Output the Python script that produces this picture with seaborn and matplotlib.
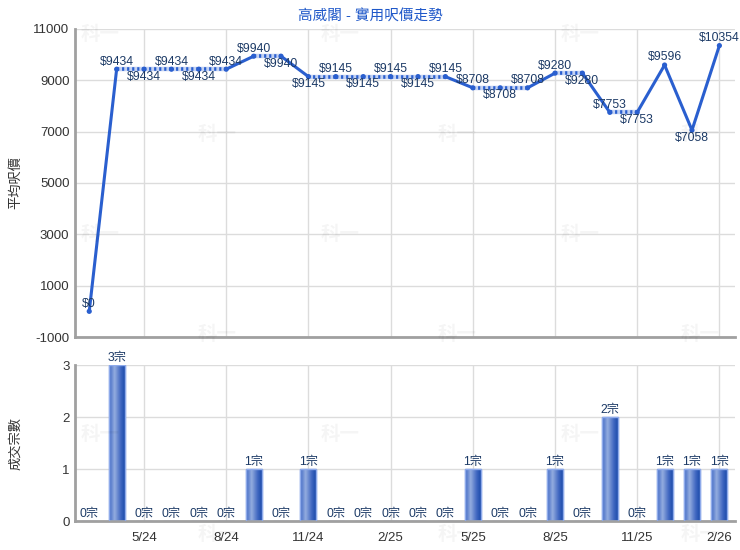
import numpy as np
import pandas as pd
import matplotlib
matplotlib.use("Agg")
import matplotlib.pyplot as plt
import seaborn as sns
from matplotlib.colors import LinearSegmentedColormap

months = ["3/24", "4/24", "5/24", "6/24", "7/24", "8/24", "9/24", "10/24", "11/24", "12/24",
          "1/25", "2/25", "3/25", "4/25", "5/25", "6/25", "7/25", "8/25", "9/25", "10/25",
          "11/25", "12/25", "1/26", "2/26"]
prices = [0, 9434, 9434, 9434, 9434, 9434, 9940, 9940, 9145, 9145,
          9145, 9145, 9145, 9145, 8708, 8708, 8708, 9280, 9280, 7753,
          7753, 9596, 7058, 10354]
counts = [0, 3, 0, 0, 0, 0, 1, 0, 1, 0,
          0, 0, 0, 0, 1, 0, 0, 1, 0, 2,
          0, 1, 1, 1]
tick_labels = ["5/24", "8/24", "11/24", "2/25", "5/25", "8/25", "11/25", "2/26"]
label_above = [True, True, False, True, False, True, True, False, False, True,
               False, True, False, True, True, False, True, True, False, True,
               False, True, False, True]

title = "高威閣 - 實用呎價走勢"
ylabel_top = "平均呎價"
ylabel_bot = "成交宗數"

sns.set_theme(style="white")
plt.rcParams['font.family'] = ['Liberation Sans', 'Noto Sans CJK TC', 'DejaVu Sans']
plt.rcParams['axes.unicode_minus'] = False

df = pd.DataFrame({"month": months, "x": np.arange(len(months)), "price": prices, "count": counts})

fig = plt.figure(figsize=(7.4, 5.5), dpi=100)
ax1 = fig.add_axes([75/740, 1-337/550, 660/740, 308/550])
ax2 = fig.add_axes([75/740, 1-521/550, 660/740, 156/550])

line_c = "#2a5fcf"
txt_c = "#1c3a66"
grid_c = "#dcdcdc"
spine_c = "#a0a0a0"

xlim = (-0.52, 23.57)
tick_pos = [months.index(t) for t in tick_labels]

for ax in (ax1, ax2):
    ax.set_xlim(*xlim)
    ax.set_xticks(tick_pos)
    ax.grid(True, color=grid_c, linewidth=1)
    ax.set_axisbelow(True)
    for s in ("top", "right"):
        ax.spines[s].set_visible(False)
    for s in ("left", "bottom"):
        ax.spines[s].set_color(spine_c)
        ax.spines[s].set_linewidth(2)
    ax.tick_params(axis="both", labelsize=9.5, colors="#333333", length=0, pad=4)
    ax.tick_params(axis="x", length=4, color=spine_c, direction="out")

# --- top: price line
ax1.set_ylim(-1000, 11000)
ax1.set_yticks(np.arange(-1000, 11001, 2000))
ax1.set_xticklabels([])
ax1.tick_params(axis="x", length=0)

x = df["x"].values
p = df["price"].values
for i in range(len(x) - 1):
    seg = df.iloc[i:i+2]
    if counts[i+1] == 0:
        ax1.plot(seg["x"], seg["price"], color="#c3d2f2", lw=3.2, solid_capstyle="butt", zorder=2)
        ax1.plot(seg["x"], seg["price"], color=line_c, lw=2.6, linestyle=(0, (0.6, 0.8)), zorder=3)
    else:
        sns.lineplot(data=seg, x="x", y="price", ax=ax1, color=line_c, lw=2.2, zorder=3)
sns.scatterplot(data=df, x="x", y="price", ax=ax1, color=line_c, s=14, edgecolor="none", zorder=4)
for xi, pi, up in zip(x, p, label_above):
    off = 5.5 if up else -5.5
    ax1.annotate(f"${pi}", (xi, pi), xytext=(0, off), textcoords="offset points",
                 ha="center", va="center", fontsize=8.8, color=txt_c, zorder=5)
ax1.set_xlabel("")
ax1.set_ylabel(ylabel_top, fontsize=9.5, color="#333333")
ax1.yaxis.set_label_coords(-0.080, 0.5)

# --- bottom: bars
sns.barplot(data=df, x="x", y="count", ax=ax2, color="#3d66c4", width=0.58,
            native_scale=True, edgecolor="#8eaaea", linewidth=1, zorder=2)
ax2.set_xlim(*xlim)
ax2.set_xticks(tick_pos)
ax2.set_xticklabels(tick_labels)
ax2.set_ylim(0, 3)
ax2.set_yticks([0, 1, 2, 3])
ax2.set_xlabel("")
ax2.set_ylabel(ylabel_bot, fontsize=9.5, color="#333333")
ax2.yaxis.set_label_coords(-0.080, 0.5)

cmap = LinearSegmentedColormap.from_list("cyl", [(0, "#4069c4"), (0.35, "#93acdf"), (0.75, "#3e66c0"), (1, "#1d4cab")])
grad = np.linspace(0, 1, 64).reshape(1, -1)
for patch in list(ax2.patches):
    bx, by = patch.get_x(), patch.get_y()
    bw, bh = patch.get_width(), patch.get_height()
    if bh <= 0:
        continue
    im = ax2.imshow(grad, cmap=cmap, extent=[bx, bx + bw, by, by + bh], aspect="auto", zorder=2.5)
    im.set_clip_path(patch)
    ax2.add_patch(plt.Rectangle((bx, by), bw, bh, fill=False, edgecolor="#8eaaea", lw=1, zorder=2.6))
ax2.set_xlim(*xlim)
ax2.set_ylim(0, 3)
for xi, ci in zip(x, counts):
    ax2.annotate(f"{ci}宗", (xi, ci), xytext=(0, 1), textcoords="offset points",
                 ha="center", va="bottom", fontsize=8.8, color=txt_c, zorder=5)

fig.text(0.5, 1 - 17/550, title, ha="center", va="center", fontsize=10.5, color="#1f58c9")

# faint watermark
for yy, xs in [(35, (100, 340, 580)), (135, (217, 457, 700)), (235, (100, 340, 580)),
               (335, (217, 457, 700)), (435, (100, 340, 580)), (535, (217, 457, 700))]:
    for xx in xs:
        fig.text(xx/740, 1 - yy/550, "科一", ha="center", va="center", fontsize=14,
                 fontweight="bold", color="#000000", alpha=0.04, family=["Noto Sans CJK TC"])

fig.savefig("out.png", dpi=100)
